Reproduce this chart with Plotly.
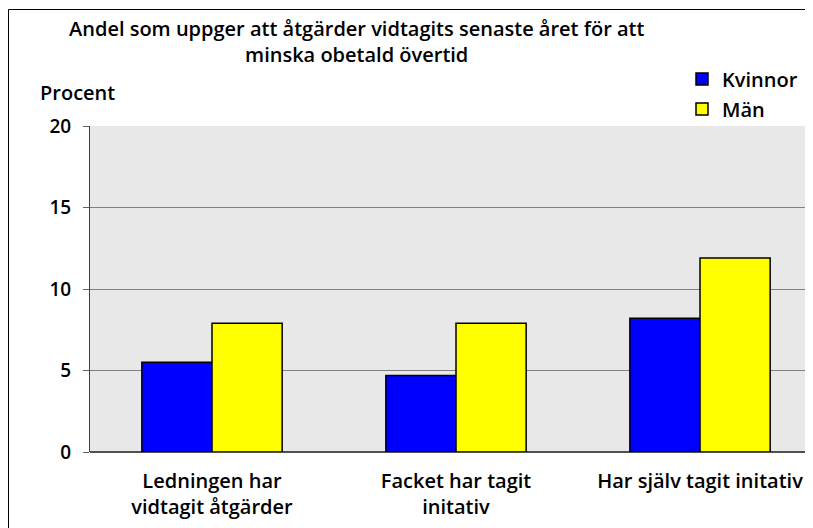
import plotly.graph_objects as go

categories = ["Ledningen har<br>vidtagit åtgärder", "Facket har tagit<br>initativ", "Har själv tagit initativ"]
kvinnor = [5.5, 4.7, 8.2]
man = [7.9, 7.9, 11.9]
y_ticks = [0, 5, 10, 15, 20]

FONT = "Open Sans, DejaVu Sans, Arial, sans-serif"
W, H = 805, 520
L, T, B = 82, 118, 76
PW, PH = W - L, H - T - B


def px(fx):
    return (fx - L) / PW


def py(fy):
    return (H - B - fy) / PH


def f(size):
    return dict(size=size, family=FONT, color="black", weight=600)


fig = go.Figure()
fig.add_trace(go.Bar(x=categories, y=kvinnor, name="Kvinnor", legend="legend",
                     marker=dict(color="#0000FF", line=dict(color="black", width=1.5))))
fig.add_trace(go.Bar(x=categories, y=man, name="Män", legend="legend2",
                     marker=dict(color="#FFFF00", line=dict(color="black", width=1.5))))

leg_common = dict(xanchor="left", yanchor="middle", bgcolor="rgba(0,0,0,0)",
                  font=f(20), itemwidth=30)

fig.update_layout(
    width=W, height=H,
    margin=dict(l=L, r=0, t=T, b=B, autoexpand=False, pad=0),
    paper_bgcolor="white",
    plot_bgcolor="#E8E8E8",
    barmode="group",
    bargap=0.425,
    bargroupgap=0,
    font=f(20),
    showlegend=True,
    legend=dict(x=px(674), y=py(71), **leg_common),
    legend2=dict(x=px(674), y=py(101), **leg_common),
    xaxis=dict(range=[-0.5, 2.463], showgrid=False, showline=False, ticks="",
               tickfont=f(20), ticklabelstandoff=15,
               fixedrange=True),
    yaxis=dict(range=[0, 20], tickvals=y_ticks, showgrid=True, gridcolor="#808080", gridwidth=1,
               showline=True, linecolor="#404040", linewidth=1, ticks="outside", ticklen=6,
               tickcolor="#606060", tickfont=f(19),
               ticklabelstandoff=8, zeroline=True, zerolinecolor="#505050", zerolinewidth=2,
               fixedrange=True),
)

fig.add_annotation(text="Andel som uppger att åtgärder vidtagits senaste året för att<br>minska obetald övertid",
                   xref="paper", yref="paper", x=px(348), y=py(34),
                   xanchor="center", yanchor="middle", showarrow=False,
                   font=f(20))
fig.add_annotation(text="Procent", xref="paper", yref="paper",
                   x=px(30), y=py(85),
                   xanchor="left", yanchor="middle", showarrow=False,
                   font=f(20))

# outer chart border
fig.add_shape(type="rect", xref="paper", yref="paper",
              x0=px(0.5), x1=px(W + 20),
              y0=py(H + 20), y1=py(1.5),
              line=dict(color="black", width=1), fillcolor="rgba(0,0,0,0)", layer="below")

fig.write_html("out.html")
